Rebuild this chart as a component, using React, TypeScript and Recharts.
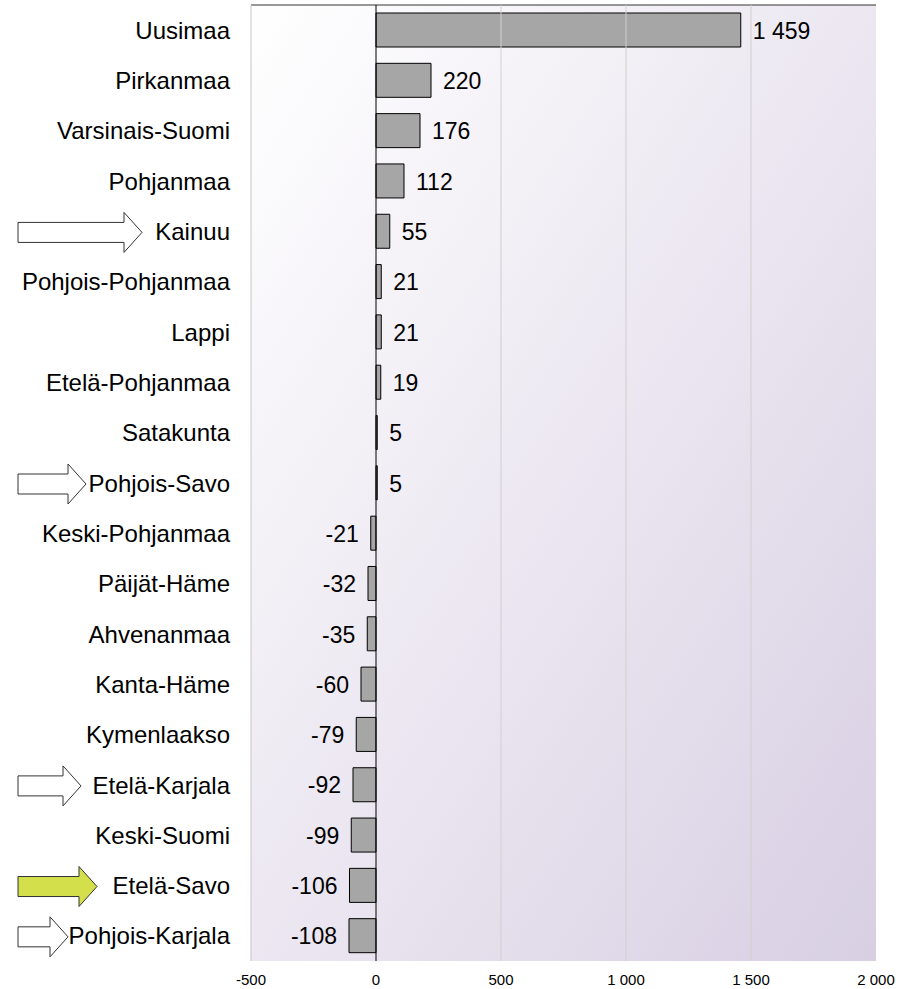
import React from "react";
import {
  BarChart,
  Bar,
  XAxis,
  YAxis,
  CartesianGrid,
  ReferenceLine,
  LabelList,
} from "recharts";

const regions = [
  "Uusimaa",
  "Pirkanmaa",
  "Varsinais-Suomi",
  "Pohjanmaa",
  "Kainuu",
  "Pohjois-Pohjanmaa",
  "Lappi",
  "Etelä-Pohjanmaa",
  "Satakunta",
  "Pohjois-Savo",
  "Keski-Pohjanmaa",
  "Päijät-Häme",
  "Ahvenanmaa",
  "Kanta-Häme",
  "Kymenlaakso",
  "Etelä-Karjala",
  "Keski-Suomi",
  "Etelä-Savo",
  "Pohjois-Karjala",
];

const changes = [1459, 220, 176, 112, 55, 21, 21, 19, 5, 5, -21, -32, -35, -60, -79, -92, -99, -106, -108];

const xTicks = [-500, 0, 500, 1000, 1500, 2000];
const gridValues = [500, 1000, 1500];

// arrows pointing at some regions (tip = where the arrow head ends)
const arrowMarks = [
  { region: "Kainuu", tip: 142, fill: "#ffffff" },
  { region: "Pohjois-Savo", tip: 86, fill: "#ffffff" },
  { region: "Etelä-Karjala", tip: 81, fill: "#ffffff" },
  { region: "Etelä-Savo", tip: 97, fill: "#d3df4b" },
  { region: "Pohjois-Karjala", tip: 68, fill: "#ffffff" },
];

const data = regions.map((region, i) => ({ region, value: changes[i] }));

const FONT = '"Liberation Sans", Arial, sans-serif';

const fmt = (v: number) => {
  const s = String(Math.abs(v)).replace(/\B(?=(\d{3})+(?!\d))/g, " ");
  return v < 0 ? "-" + s : s;
};

const Arrow = ({ tip, cy, fill }: { tip: number; cy: number; fill: string }) => {
  const left = 18;
  const head = 18;
  const body = 10;
  const wing = 20;
  const pts = [
    [left, cy - body],
    [tip - head, cy - body],
    [tip - head, cy - wing],
    [tip, cy],
    [tip - head, cy + wing],
    [tip - head, cy + body],
    [left, cy + body],
  ]
    .map((p) => p.join(","))
    .join(" ");
  return <polygon points={pts} fill={fill} stroke="#333" strokeWidth={1} />;
};

const RegionTick = (props: any) => {
  const { y, payload } = props;
  const mark = arrowMarks.find((m) => m.region === payload.value);
  return (
    <g>
      {mark && <Arrow tip={mark.tip} cy={y + 1} fill={mark.fill} />}
      <text
        x={230}
        y={y}
        dy="0.36em"
        textAnchor="end"
        fontSize={24}
        fontFamily={FONT}
        fill="#000"
      >
        {payload.value}
      </text>
    </g>
  );
};

const ValueTick = (props: any) => {
  const { x, payload } = props;
  return (
    <text x={x} y={985} textAnchor="middle" fontSize={15} fontFamily={FONT} fill="#000">
      {fmt(payload.value)}
    </text>
  );
};

const ValueLabel = (props: any) => {
  const { x, y, width, height, value } = props;
  const left = Math.min(x, x + width);
  const right = Math.max(x, x + width);
  const pos = value >= 0;
  return (
    <text
      x={pos ? right + 12 : left - 12}
      y={y + height / 2}
      dy="0.38em"
      textAnchor={pos ? "start" : "end"}
      fontSize={23}
      fontFamily={FONT}
      fill="#000"
    >
      {fmt(value)}
    </text>
  );
};

export default function App() {
  return (
    <div style={{ position: "absolute", left: 0, top: 0 }}>
      <BarChart
        width={899}
        height={989}
        data={data}
        layout="vertical"
        margin={{ top: 5, right: 23, bottom: 0, left: 0 }}
        barSize={34}
      >
        <defs>
          <linearGradient id="plotBg" x1="0" y1="0" x2="1" y2="1">
            <stop offset="0%" stopColor="#ffffff" />
            <stop offset="100%" stopColor="#d8cfe3" />
          </linearGradient>
        </defs>
        <CartesianGrid fill="url(#plotBg)" horizontal={false} vertical={false} />
        <CartesianGrid
          fill="none"
          vertical={false}
          horizontalPoints={[5]}
          stroke="#333"
          strokeDasharray=""
        />
        <XAxis
          type="number"
          domain={[-500, 2000]}
          ticks={xTicks}
          axisLine={false}
          tickLine={false}
          tickSize={0}
          tickMargin={0}
          height={28}
          tick={(p: any) => <ValueTick {...p} />}
          interval={0}
        />
        <YAxis
          type="category"
          dataKey="region"
          width={251}
          axisLine={{ stroke: "#c6c6c6" }}
          tickLine={false}
          interval={0}
          tick={(p: any) => <RegionTick {...p} />}
        />
        {gridValues.map((v) => (
          <ReferenceLine key={v} x={v} stroke="#cfcfcf" strokeWidth={1} />
        ))}
        <ReferenceLine x={0} stroke="#000" strokeWidth={1} />
        <Bar dataKey="value" fill="#a6a6a6" stroke="#000" strokeWidth={1} isAnimationActive={false}>
          <LabelList dataKey="value" content={<ValueLabel />} />
        </Bar>
      </BarChart>
    </div>
  );
}
